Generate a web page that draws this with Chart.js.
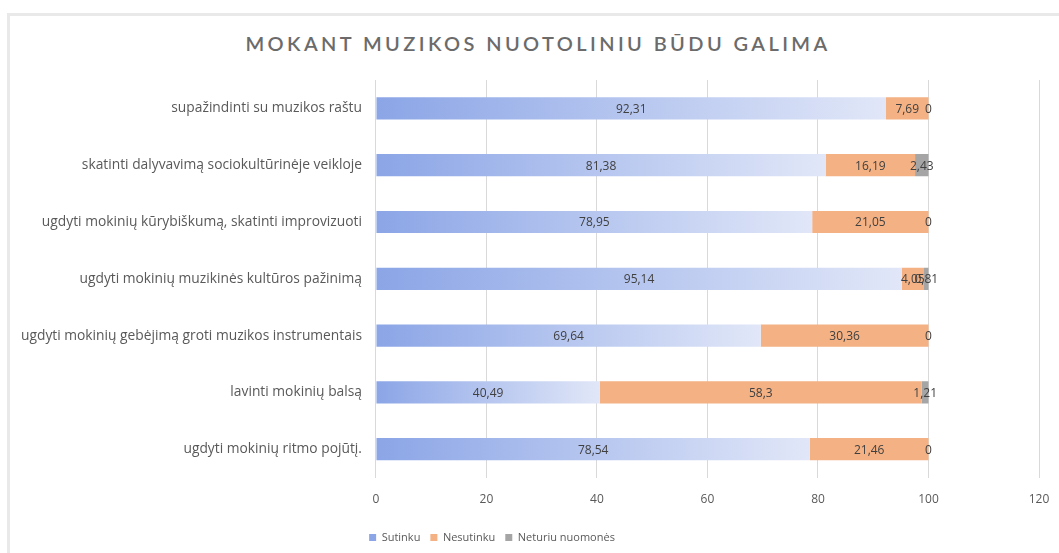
<!DOCTYPE html>
<html>
<head>
<meta charset="utf-8">
<script src="https://cdn.jsdelivr.net/npm/chart.js@4"></script>
<style>
  html, body { margin: 0; padding: 0; background: #fff; overflow: hidden; }
  #wrap { position: relative; width: 1059px; height: 553px; }
  #frame { position: absolute; left: 7px; top: 13px; width: 1120px; height: 620px; border: 3px solid #e9e9e9; }
  #title { position: absolute; left: 0; top: 31px; width: 1076px; text-align: center;
    font: 600 20px Lato, "Open Sans", sans-serif; letter-spacing: 3.4px; color: #6b6b6b; }
  #box { position: absolute; left: 0; top: 0; width: 1059px; height: 553px; }
</style>
</head>
<body>
<div id="wrap">
  <div id="frame"></div>
  <div id="title">MOKANT MUZIKOS NUOTOLINIU BŪDU GALIMA</div>
  <div id="box"><canvas id="chart"></canvas></div>
</div>
<script>
  const labels = [
    'supažindinti su muzikos raštu',
    'skatinti dalyvavimą sociokultūrinėje veikloje',
    'ugdyti mokinių kūrybiškumą, skatinti improvizuoti',
    'ugdyti mokinių muzikinės kultūros pažinimą',
    'ugdyti mokinių gebėjimą groti muzikos instrumentais',
    'lavinti mokinių balsą',
    'ugdyti mokinių ritmo pojūtį.'
  ];
  const sutinku = [92.31, 81.38, 78.95, 95.14, 69.64, 40.49, 78.54];
  const nesutinku = [7.69, 16.19, 21.05, 4.05, 30.36, 58.3, 21.46];
  const neturiu = [0, 2.43, 0, 0.81, 0, 1.21, 0];
  const xTicks = [0, 20, 40, 60, 80, 100, 120];

  const font = '"Open Sans", Lato, sans-serif';

  // light blue fade along each "Sutinku" bar
  function blueFade(c) {
    if (c.type !== 'data' || !c.chart.chartArea) return '#4472c4';
    const x = c.chart.scales.x;
    const x0 = x.getPixelForValue(0);
    const x1 = x.getPixelForValue(c.raw);
    const g = c.chart.ctx.createLinearGradient(x0, 0, x1, 0);
    g.addColorStop(0, '#8ba5e6');
    g.addColorStop(1, '#e1e7f8');
    return g;
  }

  // numbers in the middle of each segment, with a decimal comma
  const valueLabels = {
    id: 'valueLabels',
    afterDatasetsDraw(chart) {
      const ctx = chart.ctx;
      ctx.save();
      ctx.font = '12px ' + font;
      ctx.fillStyle = '#404040';
      ctx.textAlign = 'center';
      ctx.textBaseline = 'middle';
      chart.data.datasets.forEach((ds, i) => {
        chart.getDatasetMeta(i).data.forEach((bar, j) => {
          const txt = String(ds.data[j]).replace('.', ',');
          ctx.fillText(txt, (bar.x + bar.base) / 2, bar.y + 1);
        });
      });
      ctx.restore();
    }
  };

  // nudge the legend a little left of centre
  const legendShift = {
    id: 'legendShift',
    afterLayout(chart) {
      chart.legend.left -= 41;
      chart.legend.right -= 41;
    }
  };

  const ctx = document.getElementById('chart').getContext('2d');
  const chart = new Chart(ctx, {
    type: 'bar',
    data: {
      labels: labels,
      datasets: [
        { label: 'Sutinku', data: sutinku, backgroundColor: blueFade },
        { label: 'Nesutinku', data: nesutinku, backgroundColor: '#f4b183' },
        { label: 'Neturiu nuomonės', data: neturiu, backgroundColor: '#a5a5a5' }
      ]
    },
    options: {
      indexAxis: 'y',
      responsive: true,
      maintainAspectRatio: false,
      animation: false,
      datasets: { bar: { categoryPercentage: 1, barPercentage: 0.39 } },
      layout: { padding: { top: 80, right: 0, left: 7, bottom: 0 } },
      scales: {
        x: {
          stacked: true,
          min: 0,
          max: 120,
          afterBuildTicks(axis) { axis.ticks = xTicks.map(v => ({ value: v })); },
          // keep only a small margin past the "120" label
          afterFit(axis) { axis.paddingRight = 20; },
          grid: { color: '#d9d9d9', drawTicks: false },
          border: { display: false },
          ticks: { color: '#595959', font: { family: font, size: 12 }, padding: 15 }
        },
        y: {
          stacked: true,
          grid: { display: false, drawTicks: false },
          border: { display: false },
          ticks: { color: '#595959', font: { family: font, size: 13.8 }, padding: 14 }
        }
      },
      plugins: {
        legend: {
          position: 'bottom',
          labels: {
            boxWidth: 7,
            boxHeight: 7,
            padding: 10,
            color: '#595959',
            font: { family: font, size: 11 }
          }
        },
        tooltip: { enabled: false }
      }
    },
    plugins: [valueLabels, legendShift]
  });
</script>
</body>
</html>
